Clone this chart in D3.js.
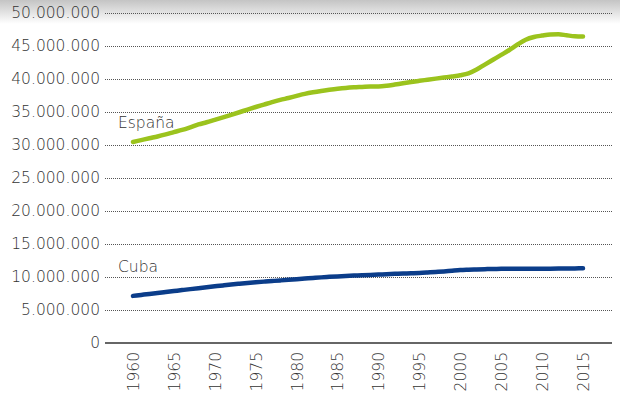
<!DOCTYPE html>
<html>
<head>
<meta charset="utf-8">
<script src="https://cdn.jsdelivr.net/npm/d3@7"></script>
<style>
  body { margin: 0; background: #fff; }
  text { font-family: "DejaVu Sans", sans-serif; font-weight: 200; fill: #333; }
</style>
</head>
<body>
<svg class="chart"></svg>
<script>
// chart size
var width = 620;
var height = 401;
var margin = {top: 13, right: 8, bottom: 58, left: 105};
var w = width - margin.left - margin.right;
var h = height - margin.top - margin.bottom;

// data (population)
var years = [1960, 1961, 1962, 1963, 1964, 1965, 1966, 1967, 1968, 1969,
             1970, 1971, 1972, 1973, 1974, 1975, 1976, 1977, 1978, 1979,
             1980, 1981, 1982, 1983, 1984, 1985, 1986, 1987, 1988, 1989,
             1990, 1991, 1992, 1993, 1994, 1995, 1996, 1997, 1998, 1999,
             2000, 2001, 2002, 2003, 2004, 2005, 2006, 2007, 2008, 2009,
             2010, 2011, 2012, 2013, 2014, 2015];
var espana = [30455000, 30739000, 31023000, 31297000, 31609000, 31954000, 32283000, 32683000, 33113000, 33441000,
              33815000, 34190000, 34570000, 34964000, 35367000, 35756000, 36125000, 36495000, 36832000, 37124000,
              37439000, 37741000, 37983000, 38185000, 38357000, 38513000, 38643000, 38736000, 38802000, 38871000,
              38867000, 38966000, 39158000, 39361000, 39549000, 39724000, 39890000, 40057000, 40224000, 40387000,
              40568000, 40850000, 41432000, 42188000, 42922000, 43653000, 44397000, 45227000, 45954000, 46363000,
              46577000, 46743000, 46773000, 46620000, 46481000, 46445000];
var cuba = [7141000, 7289000, 7435000, 7580000, 7726000, 7873000, 8018000, 8162000, 8306000, 8449000,
            8591000, 8729000, 8860000, 8983000, 9098000, 9203000, 9300000, 9391000, 9480000, 9570000,
            9664000, 9760000, 9855000, 9944000, 10024000, 10094000, 10155000, 10209000, 10260000, 10311000,
            10365000, 10421000, 10474000, 10522000, 10565000, 10610000, 10680000, 10760000, 10850000, 10960000,
            11060000, 11110000, 11150000, 11190000, 11215000, 11233000, 11241000, 11247000, 11252000, 11255000,
            11259000, 11266000, 11275000, 11290000, 11306000, 11325000];
var tickValues = [0, 5000000, 10000000, 15000000, 20000000, 25000000, 30000000, 35000000, 40000000, 45000000, 50000000];
var yearTicks = [1960, 1965, 1970, 1975, 1980, 1985, 1990, 1995, 2000, 2005, 2010, 2015];

var svg = d3.select(".chart")
    .attr("width", width)
    .attr("height", height);

// soft shadow along the top edge
var grad = svg.append("defs").append("linearGradient")
    .attr("id", "topShade")
    .attr("x1", 0).attr("y1", 0).attr("x2", 0).attr("y2", 1);
grad.append("stop").attr("offset", "0%").attr("stop-color", "#c4c4c4");
grad.append("stop").attr("offset", "100%").attr("stop-color", "#fff");
svg.append("rect")
    .attr("x", 0).attr("y", 0)
    .attr("width", width).attr("height", 24)
    .attr("fill", "url(#topShade)");

var chart = svg.append("g")
    .attr("transform", "translate(" + margin.left + "," + margin.top + ")");

var x = d3.scaleLinear()
    .domain([1960, 2015])
    .range([28, 478]);

var y = d3.scaleLinear()
    .domain([0, 50000000])
    .range([h, 0]);

// "50.000.000" style labels
var fmt = function(d) {
    return d3.format(",")(d).replace(/,/g, ".");
};

// y axis with dotted grid
var yAxis = d3.axisLeft(y)
    .tickValues(tickValues)
    .tickSize(0)
    .tickPadding(5)
    .tickFormat(fmt);

var yg = chart.append("g").call(yAxis);
yg.attr("font-family", null);
yg.select(".domain").remove();
yg.selectAll("text")
    .style("font-size", "15.5px")
    .attr("fill", null);

chart.append("g").selectAll("line")
    .data(tickValues.filter(function(d) { return d > 0; }))
    .enter().append("line")
    .attr("x1", 0)
    .attr("x2", w)
    .attr("y1", function(d) { return Math.round(y(d)) + 0.5; })
    .attr("y2", function(d) { return Math.round(y(d)) + 0.5; })
    .attr("stroke", "#555")
    .attr("stroke-width", 1)
    .attr("stroke-dasharray", "1,1");

// baseline
chart.append("line")
    .attr("x1", 0)
    .attr("x2", w)
    .attr("y1", y(0))
    .attr("y2", y(0))
    .attr("stroke", "#333")
    .attr("stroke-width", 1.5);

// x axis, labels rotated
var xAxis = d3.axisBottom(x)
    .tickValues(yearTicks)
    .tickSize(0)
    .tickFormat(d3.format("d"));

var xg = chart.append("g")
    .attr("transform", "translate(0," + h + ")")
    .call(xAxis);
xg.attr("font-family", null);
xg.select(".domain").remove();
xg.selectAll("text")
    .style("font-size", "15.5px")
    .attr("fill", null)
    .attr("transform", "rotate(-90)")
    .attr("x", -9)
    .attr("y", 0)
    .attr("dy", "0.35em")
    .style("text-anchor", "end");

// lines
var line = function(values) {
    return d3.line()
        .x(function(d, i) { return x(years[i]); })
        .y(function(d) { return y(d); })
        .curve(d3.curveMonotoneX)(values);
};

chart.append("path")
    .attr("d", line(espana))
    .attr("fill", "none")
    .attr("stroke", "#9bc31d")
    .attr("stroke-width", 4.5)
    .attr("stroke-linecap", "round");

chart.append("path")
    .attr("d", line(cuba))
    .attr("fill", "none")
    .attr("stroke", "#0b3d8a")
    .attr("stroke-width", 4.5)
    .attr("stroke-linecap", "round");

// series labels
chart.append("text")
    .attr("x", 13)
    .attr("y", y(32650000))
    .style("font-size", "15.5px")
    .text("España");

chart.append("text")
    .attr("x", 13)
    .attr("y", y(10750000))
    .style("font-size", "15.5px")
    .text("Cuba");
</script>
</body>
</html>
